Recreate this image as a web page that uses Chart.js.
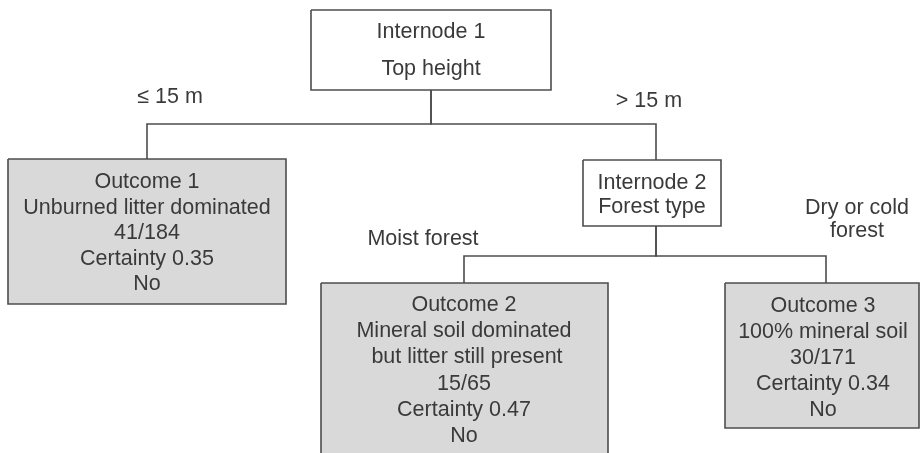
<!DOCTYPE html>
<html>
<head>
<meta charset="utf-8">
<script src="https://cdn.jsdelivr.net/npm/chart.js@4/dist/chart.umd.min.js"></script>
<style>
  html, body { margin: 0; padding: 0; background: #fff; }
  #wrap { width: 921px; height: 453px; }
</style>
</head>
<body>
<div id="wrap"><canvas id="treeChart" width="921" height="453"></canvas></div>
<script>
// tree content
const nodeNames = ['Internode 1', 'Outcome 1', 'Internode 2', 'Outcome 2', 'Outcome 3'];
const nodeSubtitles = ['Top height', 'Unburned litter dominated', 'Forest type', 'Mineral soil dominated\n but litter still present', '100% mineral soil'];
const parentOf = [null, 0, 0, 2, 2];
const outcomeNodes = [1, 3, 4];
const outcomeCounts = ['41/184', '15/65', '30/171'];
const outcomeCertainty = [0.35, 0.47, 0.34];
const outcomePrediction = ['No', 'No', 'No'];
const branchLabels = ['≤ 15 m', '> 15 m', 'Moist forest', 'Dry or cold\nforest'];

// layout, in diagram units (1 unit = 1 px)
const layout = [
  { x0: 311, x1: 551, y0: 10, y1: 90, link: 431, text: 431, first: 38, gap: 37 },
  { x0: 8, x1: 286, y0: 159, y1: 304, link: 147, text: 147, first: 188, gap: 25.5 },
  { x0: 583, x1: 721, y0: 160, y1: 226, link: 656, text: 652, first: 189, gap: 24.3 },
  { x0: 321, x1: 608, y0: 283, y1: 480, link: 464, text: 464, first: 311, gap: 26.2 },
  { x0: 725, x1: 919, y0: 283, y1: 428, link: 826, text: 823, first: 312, gap: 26.1 },
];
const busY = { 0: 124, 2: 256 };
const branchPos = [
  { x: 170, y: 102.5 }, { x: 649, y: 107 }, { x: 423, y: 245 }, { x: 857, y: 214, gap: 23 },
];

const lineColor = '#4d4d4d';
const boxFill = '#d9d9d9';
const textColor = '#3a3a3a';
const font = '21.5px "Liberation Sans", Arial, sans-serif';

function nodeLines(i) {
  const lines = [nodeNames[i]].concat(nodeSubtitles[i].split('\n'));
  const k = outcomeNodes.indexOf(i);
  if (k >= 0) {
    lines.push(outcomeCounts[k], 'Certainty ' + outcomeCertainty[k].toFixed(2), outcomePrediction[k]);
  }
  return lines;
}

const datasets = [];

// connectors
parentOf.forEach((p, i) => {
  if (p === null) return;
  const a = layout[p], c = layout[i];
  datasets.push({
    data: [
      { x: a.link, y: a.y1 }, { x: a.link, y: busY[p] },
      { x: c.link, y: busY[p] }, { x: c.link, y: c.y0 },
    ],
    borderColor: lineColor, borderWidth: 1.6, showLine: true, pointRadius: 0, order: 0,
  });
});

// boxes
layout.forEach((b, i) => {
  if (outcomeNodes.includes(i)) {
    datasets.push({
      data: [{ x: b.x0, y: b.y0 }, { x: b.x1, y: b.y0 }],
      borderWidth: 0, backgroundColor: boxFill, fill: { value: b.y1 },
      showLine: true, pointRadius: 0, order: 2,
    });
  }
  datasets.push({
    data: [
      { x: b.x0, y: b.y0 }, { x: b.x1, y: b.y0 }, { x: b.x1, y: b.y1 },
      { x: b.x0, y: b.y1 }, { x: b.x0, y: b.y0 },
    ],
    borderColor: lineColor, borderWidth: 1.6, showLine: true, pointRadius: 0, order: 1,
  });
});

const labelPlugin = {
  id: 'treeLabels',
  afterDatasetsDraw(chart) {
    const { ctx, scales: { x, y } } = chart;
    ctx.save();
    ctx.font = font;
    ctx.fillStyle = textColor;
    ctx.textAlign = 'center';
    ctx.textBaseline = 'alphabetic';
    layout.forEach((b, i) => {
      nodeLines(i).forEach((t, j) => {
        ctx.fillText(t, x.getPixelForValue(b.text), y.getPixelForValue(b.first + j * b.gap));
      });
    });
    branchLabels.forEach((t, i) => {
      const p = branchPos[i];
      t.split('\n').forEach((s, j) => {
        ctx.fillText(s, x.getPixelForValue(p.x), y.getPixelForValue(p.y + j * (p.gap || 0)));
      });
    });
    ctx.restore();
  },
};

new Chart(document.getElementById('treeChart'), {
  type: 'scatter',
  data: { datasets },
  options: {
    responsive: false,
    animation: false,
    layout: { padding: 0 },
    scales: {
      x: { type: 'linear', min: 0, max: 921, display: false },
      y: { type: 'linear', min: 0, max: 453, reverse: true, display: false },
    },
    plugins: {
      legend: { display: false },
      tooltip: { enabled: false },
    },
  },
  plugins: [labelPlugin],
});
</script>
</body>
</html>
